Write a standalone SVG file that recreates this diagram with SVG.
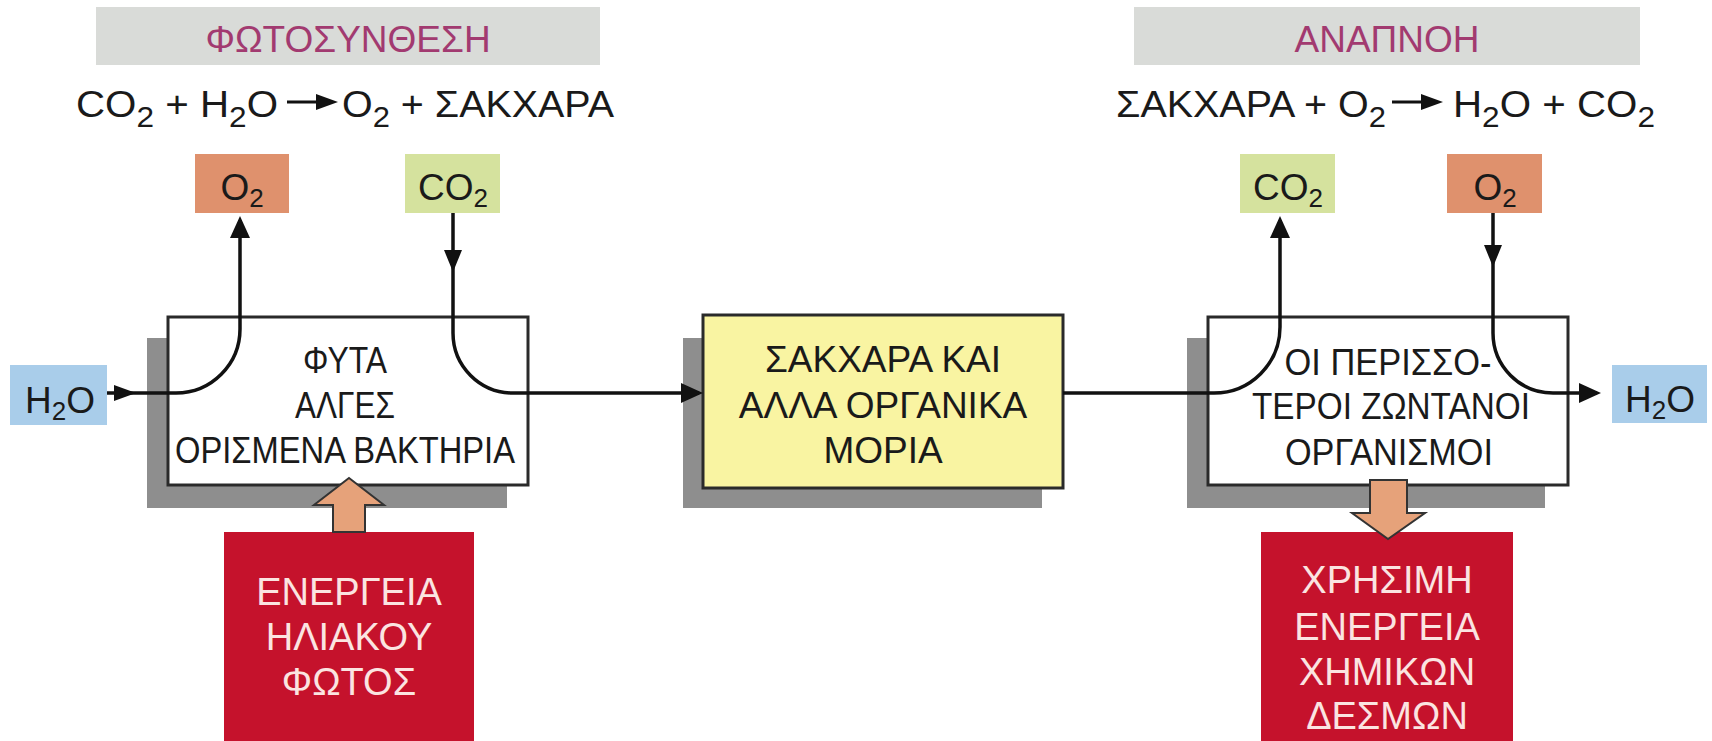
<svg xmlns="http://www.w3.org/2000/svg" width="1712" height="741" viewBox="0 0 1712 741">
<style>
text{font-family:"Liberation Sans",Arial,sans-serif;}
.banner{fill:#d9dbd8;}
.title{fill:#a23a70;font-size:37px;text-anchor:middle;}
.eq{fill:#1a1a1a;font-size:37px;}
.sub{font-size:29px;}
.lbl{fill:#1a1a1a;font-size:37px;text-anchor:middle;}
.lsub{font-size:26px;}
.o2{fill:#df916d;}
.co2{fill:#d5e29e;}
.h2o{fill:#a9cdea;}
.shadow{fill:#8e8e8e;}
.box{fill:#ffffff;stroke:#2a2a2a;stroke-width:3;}
.ybox{fill:#f9f4a2;stroke:#2a2a2a;stroke-width:3;}
.red{fill:#c5122c;}
.rtxt{fill:#fbe4e1;font-size:38px;text-anchor:middle;}
.conn{fill:none;stroke:#111;stroke-width:3.5;}
.head{fill:#111;}
.block{fill:#e6a27a;stroke:#333;stroke-width:2;}
</style>
<defs>
<marker id="ah" markerUnits="userSpaceOnUse" markerWidth="22" markerHeight="22" viewBox="0 0 22 22" refX="18" refY="11" orient="auto">
<path d="M0,1 L22,11 L0,21 Z" fill="#111"/>
</marker>
</defs>

<g id="title-photosynthesis">
<rect class="banner" x="96" y="7" width="504" height="58"/>
<text class="title" x="348" y="52">ΦΩΤΟΣΥΝΘΕΣΗ</text>
</g>
<g id="title-respiration">
<rect class="banner" x="1134" y="7" width="506" height="58"/>
<text class="title" x="1387" y="52">ΑΝΑΠΝΟΗ</text>
</g>

<g id="equation-photosynthesis">
<text class="eq" x="76" y="117" textLength="202" lengthAdjust="spacingAndGlyphs">CO<tspan class="sub" dy="10">2</tspan><tspan dy="-10"> + H</tspan><tspan class="sub" dy="10">2</tspan><tspan dy="-10">O</tspan></text>
<line x1="287" y1="102" x2="320" y2="102" stroke="#111" stroke-width="3"/>
<path d="M316,94 L338,102 L316,110 Z" fill="#111"/>
<text class="eq" x="342" y="117" textLength="272" lengthAdjust="spacingAndGlyphs">O<tspan class="sub" dy="10">2</tspan><tspan dy="-10"> + ΣΑΚΧΑΡΑ</tspan></text>
</g>
<g id="equation-respiration">
<text class="eq" x="1116" y="117" textLength="270" lengthAdjust="spacingAndGlyphs">ΣΑΚΧΑΡΑ + O<tspan class="sub" dy="10">2</tspan></text>
<line x1="1392" y1="102" x2="1425" y2="102" stroke="#111" stroke-width="3"/>
<path d="M1421,94 L1443,102 L1421,110 Z" fill="#111"/>
<text class="eq" x="1453" y="117" textLength="202" lengthAdjust="spacingAndGlyphs">H<tspan class="sub" dy="10">2</tspan><tspan dy="-10">O + CO</tspan><tspan class="sub" dy="10">2</tspan></text>
</g>

<g id="o2-left">
<rect class="o2" x="195" y="154" width="94" height="59"/>
<text class="lbl" x="242" y="200">O<tspan class="lsub" dy="7">2</tspan></text>
</g>
<g id="co2-left">
<rect class="co2" x="405" y="154" width="95" height="59"/>
<text class="lbl" x="453" y="200">CO<tspan class="lsub" dy="7">2</tspan></text>
</g>
<g id="co2-right">
<rect class="co2" x="1240" y="154" width="95" height="59"/>
<text class="lbl" x="1288" y="200">CO<tspan class="lsub" dy="7">2</tspan></text>
</g>
<g id="o2-right">
<rect class="o2" x="1447" y="154" width="95" height="59"/>
<text class="lbl" x="1495" y="200">O<tspan class="lsub" dy="7">2</tspan></text>
</g>
<g id="h2o-left">
<rect class="h2o" x="10" y="365" width="97" height="60"/>
<text class="lbl" x="60" y="413">H<tspan class="lsub" dy="7">2</tspan><tspan dy="-7">O</tspan></text>
</g>
<g id="h2o-right">
<rect class="h2o" x="1612" y="365" width="95" height="58"/>
<text class="lbl" x="1660" y="412">H<tspan class="lsub" dy="7">2</tspan><tspan dy="-7">O</tspan></text>
</g>

<g id="plants">
<rect class="shadow" x="147" y="338" width="360" height="170"/>
<rect class="box" x="168" y="317" width="360" height="168"/>
<text class="lbl" x="345" y="373" textLength="84" lengthAdjust="spacingAndGlyphs">ΦΥΤΑ</text>
<text class="lbl" x="345" y="418" textLength="100" lengthAdjust="spacingAndGlyphs">ΑΛΓΕΣ</text>
<text class="lbl" x="345" y="463" textLength="340" lengthAdjust="spacingAndGlyphs">ΟΡΙΣΜΕΝΑ ΒΑΚΤΗΡΙΑ</text>
</g>
<g id="sugars">
<rect class="shadow" x="683" y="338" width="359" height="170"/>
<rect class="ybox" x="703" y="315" width="360" height="173"/>
<text class="lbl" x="883" y="372">ΣΑΚΧΑΡΑ ΚΑΙ</text>
<text class="lbl" x="883" y="418">ΑΛΛΑ ΟΡΓΑΝΙΚΑ</text>
<text class="lbl" x="883" y="463">ΜΟΡΙΑ</text>
</g>
<g id="organisms">
<rect class="shadow" x="1187" y="338" width="358" height="170"/>
<rect class="box" x="1208" y="317" width="360" height="168"/>
</g>

<g id="connectors">
<path class="conn" d="M107,393 H176 A64,64 0 0 0 240,329 V220" marker-end="url(#ah)"/>
<path class="head" d="M114,385 L136,393 L114,401 Z"/>
<path class="conn" d="M453,213 V333 A60,60 0 0 0 513,393 H699" marker-end="url(#ah)"/>
<path class="head" d="M444,250 L453,272 L462,250 Z"/>
<path class="conn" d="M1063,393 H1214 A66,66 0 0 0 1280,327 V220" marker-end="url(#ah)"/>
<path class="conn" d="M1493,213 V333 A60,60 0 0 0 1553,393 H1597" marker-end="url(#ah)"/>
<path class="head" d="M1484,245 L1493,267 L1502,245 Z"/>
</g>

<g id="organisms-text">
<text class="lbl" x="1388" y="375" textLength="207" lengthAdjust="spacingAndGlyphs">ΟΙ ΠΕΡΙΣΣΟ-</text>
<text class="lbl" x="1391" y="419" textLength="278" lengthAdjust="spacingAndGlyphs">ΤΕΡΟΙ ΖΩΝΤΑΝΟΙ</text>
<text class="lbl" x="1389" y="465" textLength="208" lengthAdjust="spacingAndGlyphs">ΟΡΓΑΝΙΣΜΟΙ</text>
</g>

<g id="solar-energy">
<rect class="red" x="224" y="532" width="250" height="209"/>
<text class="rtxt" x="349" y="605">ΕΝΕΡΓΕΙΑ</text>
<text class="rtxt" x="349" y="650">ΗΛΙΑΚΟΥ</text>
<text class="rtxt" x="349" y="695">ΦΩΤΟΣ</text>
<path class="block" d="M349,478 L384,505 L365,505 L365,532 L333,532 L333,505 L314,505 Z"/>
</g>
<g id="chemical-energy">
<rect class="red" x="1261" y="532" width="252" height="209"/>
<text class="rtxt" x="1387" y="593">ΧΡΗΣΙΜΗ</text>
<text class="rtxt" x="1387" y="640">ΕΝΕΡΓΕΙΑ</text>
<text class="rtxt" x="1387" y="685">ΧΗΜΙΚΩΝ</text>
<text class="rtxt" x="1387" y="729">ΔΕΣΜΩΝ</text>
<path class="block" d="M1370,480 L1407,480 L1407,513 L1425,513 L1388,539 L1352,513 L1370,513 Z"/>
</g>
</svg>
